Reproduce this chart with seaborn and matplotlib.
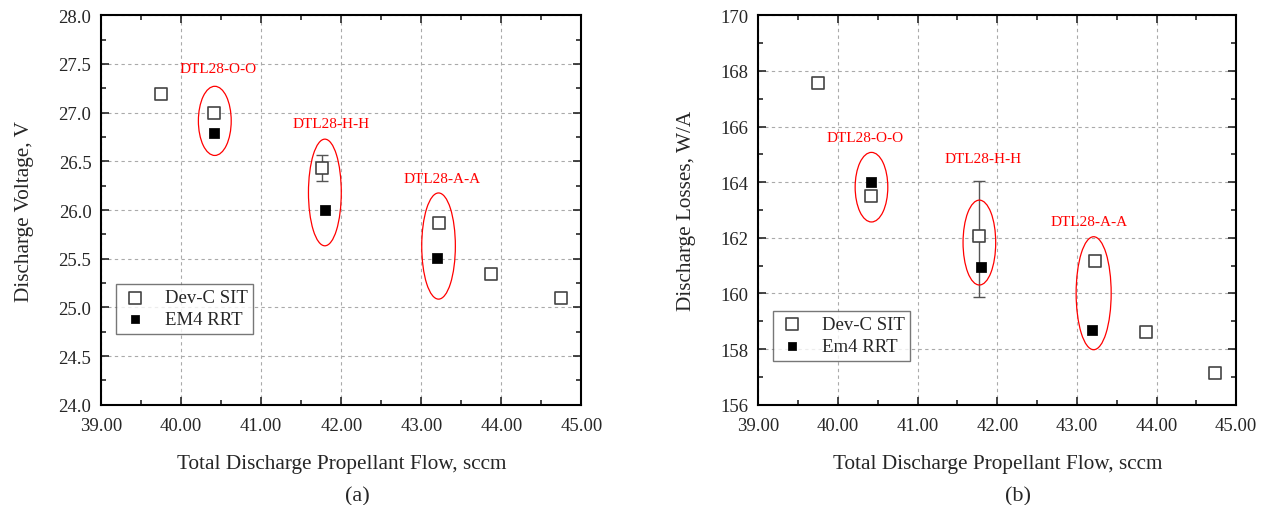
import pandas as pd
import seaborn as sns
import matplotlib.pyplot as plt
from matplotlib.patches import Ellipse
from matplotlib.ticker import MultipleLocator, FormatStrFormatter

# data
flow_sit = [39.75, 40.415, 41.765, 43.225, 43.87, 44.74]
volt_sit = [27.19, 27.00, 26.43, 25.87, 25.34, 25.10]
loss_sit = [167.55, 163.49, 162.08, 161.15, 158.63, 157.15]
flow_rrt = [40.41, 41.80, 43.195]
volt_rrt = [26.79, 26.00, 25.51]
loss_rrt = [164.00, 160.96, 158.70]
# error bars on the DTL28-H-H SIT point
err_x = 41.765
volt_err = [26.30, 26.56]
loss_err = [159.89, 164.04]
groups = ['DTL28-O-O', 'DTL28-H-H', 'DTL28-A-A']

sns.set_style('ticks')
plt.rcParams['font.family'] = ['Liberation Serif', 'DejaVu Serif']

fig = plt.figure(figsize=(12.64, 5.06), dpi=100)
ax1 = fig.add_axes([0.080, 0.198, 0.380, 0.770])
ax2 = fig.add_axes([0.600, 0.198, 0.378, 0.770])

sit = pd.DataFrame({'flow': flow_sit, 'volt': volt_sit, 'loss': loss_sit})
rrt = pd.DataFrame({'flow': flow_rrt, 'volt': volt_rrt, 'loss': loss_rrt})


def draw(ax, ycol, err, rrt_name, ylim, ymaj, ymin, yfmt, ylabel,
         ells, labels, leg_anchor):
    ax.errorbar([err_x], [(err[0] + err[1]) / 2], yerr=[(err[1] - err[0]) / 2],
                fmt='none', ecolor='#555555', elinewidth=1, capsize=4, zorder=2)
    sns.scatterplot(data=sit, x='flow', y=ycol, ax=ax, marker='s', s=80,
                    facecolor='white', edgecolor='#444444', linewidth=1.2,
                    label='Dev-C SIT', zorder=4)
    sns.scatterplot(data=rrt, x='flow', y=ycol, ax=ax, marker='s', s=45,
                    color='black', edgecolor='black', label=rrt_name, zorder=5)
    for (cx, cy, w, h) in ells:
        ax.add_patch(Ellipse((cx, cy), w, h, fill=False, edgecolor='red', lw=0.9, zorder=3))
    for name, (lx, ly) in zip(groups, labels):
        ax.text(lx, ly, name, color='red', fontsize=11, ha='center', va='center')
    ax.set_xlim(39, 45)
    ax.set_ylim(*ylim)
    ax.xaxis.set_major_locator(MultipleLocator(1))
    ax.xaxis.set_minor_locator(MultipleLocator(0.5))
    ax.xaxis.set_major_formatter(FormatStrFormatter('%.2f'))
    ax.yaxis.set_major_locator(MultipleLocator(ymaj))
    ax.yaxis.set_minor_locator(MultipleLocator(ymin))
    ax.yaxis.set_major_formatter(FormatStrFormatter(yfmt))
    ax.tick_params(which='both', direction='in', top=True, right=True, labelsize=13.5, width=1.2)
    ax.tick_params(which='major', length=6)
    ax.tick_params(which='minor', length=3.5)
    ax.tick_params(axis='x', which='major', pad=9)
    ax.tick_params(axis='y', which='major', pad=7)
    ax.grid(True, which='major', linestyle=(0, (3, 3)), color='#aaaaaa', lw=0.8)
    for s in ax.spines.values():
        s.set_linewidth(1.5)
        s.set_color('black')
    ax.set_xlabel('Total Discharge Propellant Flow, sccm', fontsize=15.3, labelpad=14)
    ax.set_ylabel(ylabel, fontsize=15.3, labelpad=18)
    leg = ax.legend(loc='lower left', bbox_to_anchor=leg_anchor, borderaxespad=0,
                    fontsize=13.5, frameon=True, fancybox=False, edgecolor='#555555',
                    handlelength=1.4, handletextpad=0.9, borderpad=0.3,
                    labelspacing=0.25, markerscale=0.95)
    leg.get_frame().set_linewidth(1.0)


draw(ax1, 'volt', volt_err, 'EM4 RRT', (24.0, 28.0), 0.5, 0.25, '%.1f',
     'Discharge Voltage, V',
     [(40.42, 26.915, 0.41, 0.71), (41.795, 26.18, 0.41, 1.095), (43.215, 25.63, 0.42, 1.09)],
     [(40.465, 27.45), (41.87, 26.89), (43.255, 26.32)],
     (0.031, 0.182))

draw(ax2, 'loss', loss_err, 'Em4 RRT', (156, 170), 2, 1, '%d',
     'Discharge Losses, W/A',
     [(40.42, 163.82, 0.41, 2.5), (41.775, 161.83, 0.41, 3.05), (43.21, 160.01, 0.44, 4.06)],
     [(40.34, 165.6), (41.82, 164.86), (43.155, 162.57)],
     (0.031, 0.113))

fig.text(0.283, 0.008, '(a)', fontsize=16, ha='center')
fig.text(0.805, 0.008, '(b)', fontsize=16, ha='center')

fig.savefig('out.png', dpi=100)
